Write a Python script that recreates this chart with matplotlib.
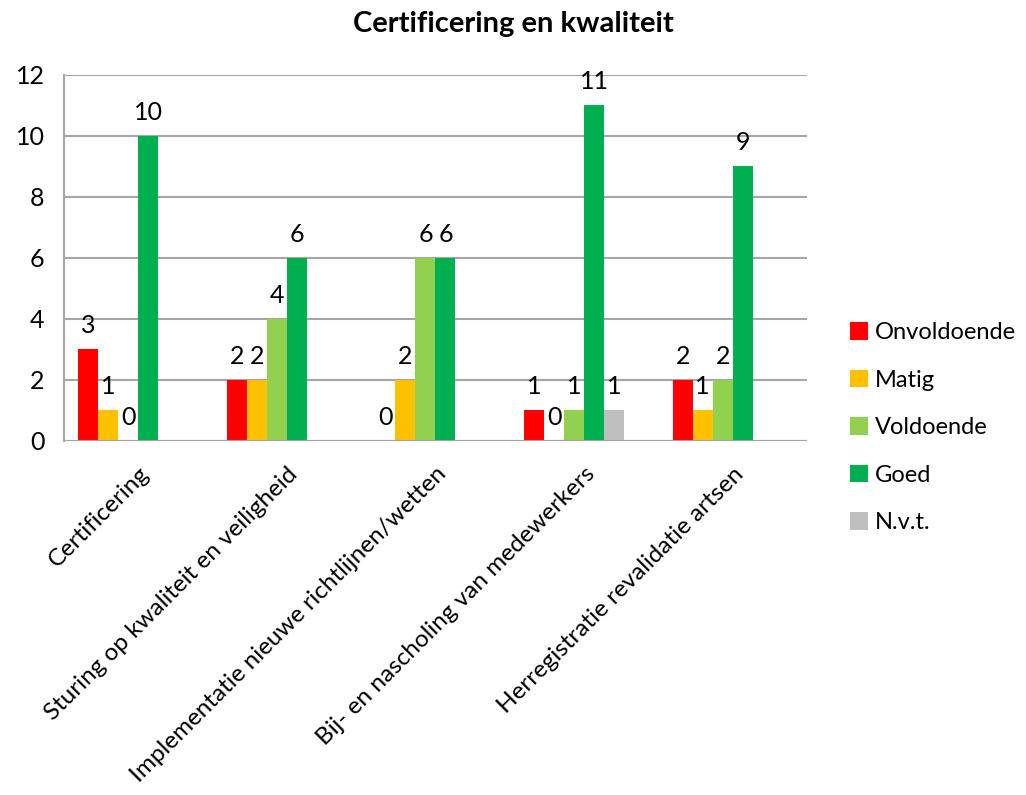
import matplotlib
matplotlib.use('Agg')
import matplotlib.pyplot as plt
import numpy as np

plt.rcParams['font.family'] = ['Lato', 'DejaVu Sans']

# Data (None = no answer given, no bar and no label)
categories = ['Certificering',
              'Sturing op kwaliteit en veiligheid',
              'Implementatie nieuwe richtlijnen/wetten',
              'Bij- en nascholing van medewerkers',
              'Herregistratie revalidatie artsen']
onvoldoende = [3, 2, 0, 1, 2]
matig = [1, 2, 2, 0, 1]
voldoende = [0, 4, 6, 1, 2]
goed = [10, 6, 6, 11, 9]
nvt = [None, None, None, 1, None]

series = [('Onvoldoende', onvoldoende, '#FF0000'),
          ('Matig', matig, '#FFC000'),
          ('Voldoende', voldoende, '#92D050'),
          ('Goed', goed, '#00B050'),
          ('N.v.t.', nvt, '#BFBFBF')]

fig = plt.figure(figsize=(10.26, 7.95), dpi=100)
ax = fig.add_axes([0.0624, 0.4453, 0.7241, 0.4604])

x = np.arange(len(categories))
n_slots = 6  # Excel reserved room for a sixth (empty) series
w = 0.1346

for i, (name, vals, col) in enumerate(series):
    off = (i - (n_slots - 1) / 2) * w
    heights = [np.nan if v is None else v for v in vals]
    ax.bar(x + off, heights, width=w, color=col, label=name, zorder=3)
    for xi, v in zip(x, vals):
        if v is None:
            continue
        ax.annotate(str(v), (xi + off, v), xytext=(0, 17), textcoords='offset points',
                    ha='center', va='center', fontsize=18, color='black')

ax.set_xlim(-0.5, len(categories) - 0.5)
ax.set_ylim(0, 12)
ax.set_yticks(range(0, 13, 2))
ax.yaxis.grid(True, color='#A6A6A6', linewidth=1.5, zorder=0)
ax.set_axisbelow(True)
for s in ['top', 'right', 'bottom']:
    ax.spines[s].set_visible(False)
ax.spines['left'].set_color('#A6A6A6')
ax.spines['left'].set_linewidth(1.5)
ax.axhline(0, color='#A6A6A6', linewidth=1.5, zorder=4)
ax.tick_params(axis='y', length=0, labelsize=18, pad=14)
ax.set_xticks(x)
ax.set_xticklabels(categories, rotation=45, ha='right', va='top',
                   rotation_mode='anchor', fontsize=17.5)
ax.tick_params(axis='x', length=0, pad=16)

fig.text(0.5, 1 - 24 / 795, 'Certificering en kwaliteit', fontsize=21,
         fontweight='bold', ha='center', va='center')

leg = ax.legend(loc='upper left', bbox_to_anchor=(1.045, 0.35), frameon=False,
                fontsize=17, handlelength=0.75, handleheight=0.75, handletextpad=0.3,
                labelspacing=1.12, borderaxespad=0)

fig.savefig('out.png', dpi=100)
